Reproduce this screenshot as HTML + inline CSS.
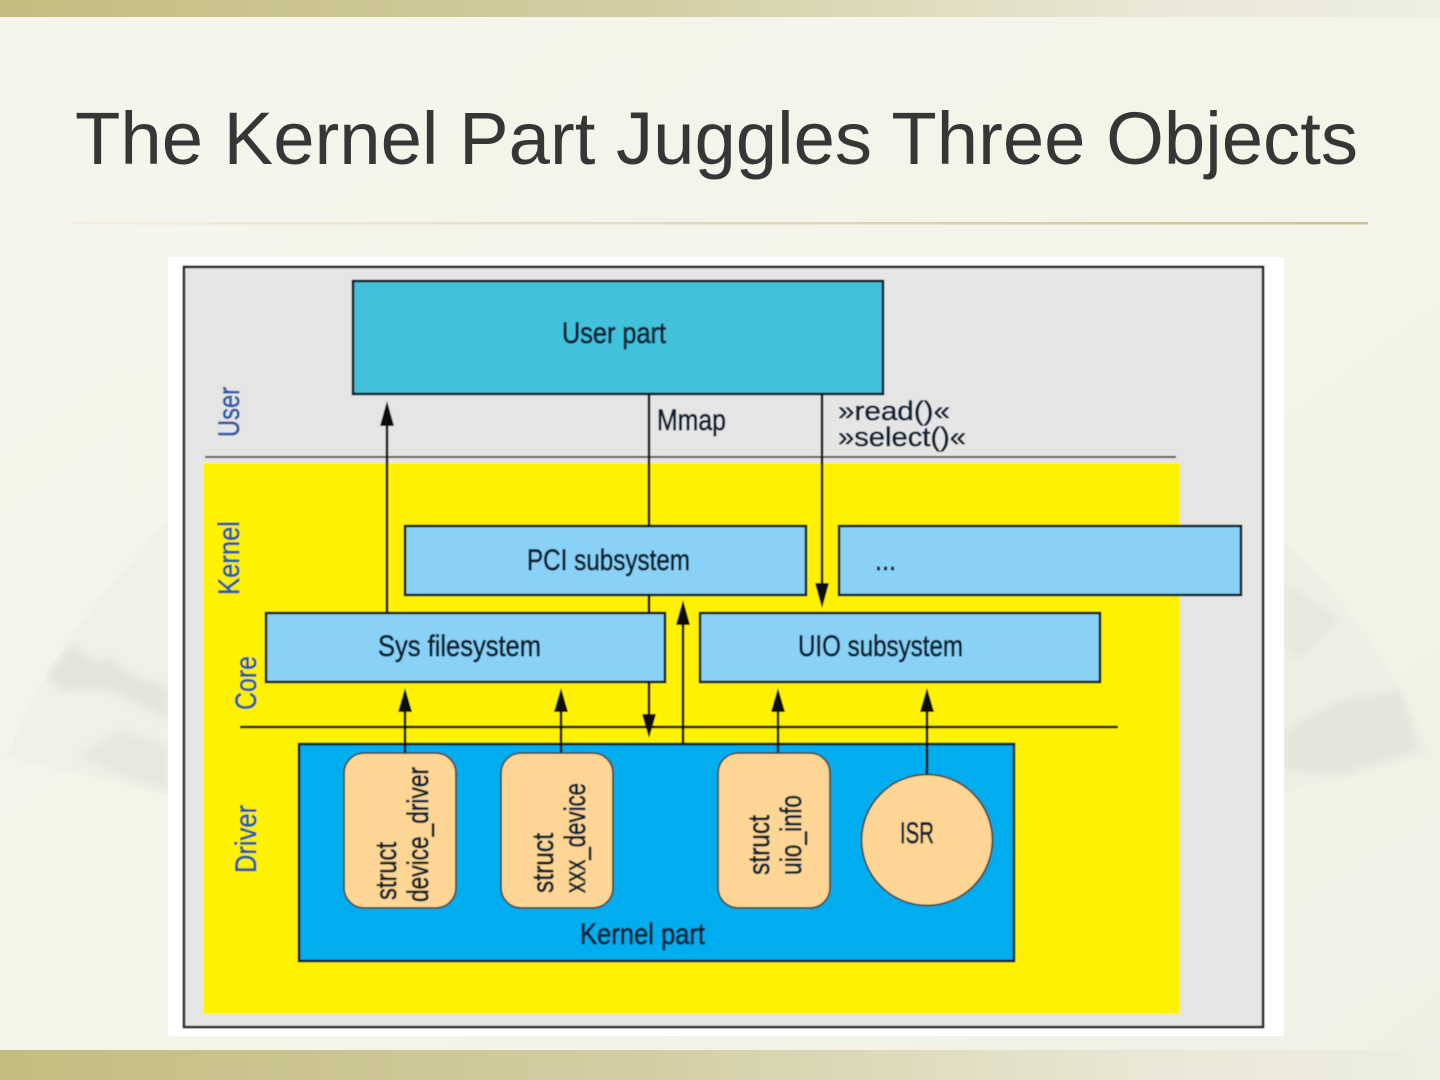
<!DOCTYPE html>
<html>
<head>
<meta charset="utf-8">
<style>
html,body{margin:0;padding:0;background:#f4f4ea;}
svg{display:block;}
.t{font-family:"Liberation Sans",sans-serif;font-size:30px;fill:#0f2032;stroke:#0f2032;stroke-width:.75;}
.s{font-family:"Liberation Sans",sans-serif;font-size:27px;fill:#0f2032;stroke:#0f2032;stroke-width:.6;}
.v{font-family:"Liberation Sans",sans-serif;font-size:30px;fill:#2f5ba6;stroke:#2f5ba6;stroke-width:.7;}
</style>
</head>
<body>
<svg width="1440" height="1080" viewBox="0 0 1440 1080" xmlns="http://www.w3.org/2000/svg">
<defs>
<linearGradient id="bar" x1="0" x2="1" y1="0" y2="0">
<stop offset="0" stop-color="#c4bc80"/><stop offset=".45" stop-color="#d3ceA2"/><stop offset=".8" stop-color="#e9e8d6"/><stop offset="1" stop-color="#eeeee3"/>
</linearGradient>
<linearGradient id="bg" x1="0" x2="1" y1="0" y2="1">
<stop offset="0" stop-color="#f5f5ec"/><stop offset=".6" stop-color="#f4f4e8"/><stop offset="1" stop-color="#efefe5"/>
</linearGradient>
<linearGradient id="rule" x1="0" x2="1" y1="0" y2="0">
<stop offset="0" stop-color="#efeee0"/><stop offset=".5" stop-color="#dedbb8"/><stop offset="1" stop-color="#c9c38c"/>
</linearGradient>
<filter id="soft"><feGaussianBlur stdDeviation="0.4"/></filter>
<filter id="soft2"><feGaussianBlur stdDeviation="4"/></filter>
</defs>

<rect width="1440" height="1080" fill="url(#bg)"/>

<path d="M7 757 C40 670 100 590 168 523 L168 795 Z" fill="#f0f0e7"/>
<path d="M48 675 L72 645 L95 662 L110 658 L130 675 L168 688 L168 718 L110 690 L60 690 Z" fill="#e4e4dc" filter="url(#soft2)"/>
<path d="M80 755 L120 730 L168 745 L168 790 L120 775 Z" fill="#e8e8e0" filter="url(#soft2)"/>

<path d="M1432 756 C1400 680 1350 600 1284 540 L1284 792 Z" fill="#efefe6"/>
<path d="M1284 730 L1340 700 L1400 690 L1420 750 L1340 775 L1284 770 Z" fill="#e5e5dc" filter="url(#soft2)"/>
<path d="M1284 580 L1340 620 L1300 660 L1284 650 Z" fill="#e8e8df" filter="url(#soft2)"/>

<rect x="0" y="0" width="1440" height="17" fill="url(#bar)"/>
<rect x="0" y="1050" width="1440" height="30" fill="url(#bar)"/>

<text x="75" y="164" font-family="'Liberation Sans',sans-serif" font-size="74" fill="#363636" textLength="1283" lengthAdjust="spacingAndGlyphs">The Kernel Part Juggles Three Objects</text>
<rect x="72" y="222" width="1296" height="2.5" fill="url(#rule)"/>

<rect x="168" y="257" width="1116" height="779" fill="#ffffff"/>

<g filter="url(#soft)">
<rect x="184" y="267" width="1079" height="760" fill="#e5e5e5" stroke="#222" stroke-width="2.4"/>
<rect x="203" y="463" width="977" height="551" fill="#fff200"/>
<line x1="205" y1="457" x2="1176" y2="457" stroke="#555" stroke-width="2"/>

<rect x="353" y="281" width="530" height="113" fill="#42c1da" stroke="#0c1620" stroke-width="2.5"/>

<g stroke="#111" stroke-width="2.5" fill="none">
<line x1="387" y1="613" x2="387" y2="420"/>
<line x1="649" y1="394" x2="649" y2="526"/>
<line x1="649" y1="595" x2="649" y2="613"/>
<line x1="649" y1="682" x2="649" y2="720"/>
<line x1="683" y1="744" x2="683" y2="620"/>
<line x1="822" y1="394" x2="822" y2="590"/>
<line x1="405" y1="753" x2="405" y2="705"/>
<line x1="561" y1="753" x2="561" y2="705"/>
<line x1="778" y1="753" x2="778" y2="705"/>
<line x1="927" y1="778" x2="927" y2="705"/>
<line x1="240" y1="727" x2="1118" y2="727"/>
</g>
<g fill="#111">
<polygon points="387,401 380,426 394,426"/>
<polygon points="649,738 642,714 656,714"/>
<polygon points="683,600 676,625 690,625"/>
<polygon points="822,608 815,583 829,583"/>
<polygon points="405,688 398,712 412,712"/>
<polygon points="561,688 554,712 568,712"/>
<polygon points="778,688 771,712 785,712"/>
<polygon points="927,688 920,712 934,712"/>
</g>

<rect x="405" y="526" width="401" height="69" fill="#89d1f5" stroke="#0c1620" stroke-width="2.5"/>
<rect x="839" y="526" width="402" height="69" fill="#89d1f5" stroke="#0c1620" stroke-width="2.5"/>
<rect x="266" y="613" width="399" height="69" fill="#89d1f5" stroke="#0c1620" stroke-width="2.5"/>
<rect x="700" y="613" width="400" height="69" fill="#89d1f5" stroke="#0c1620" stroke-width="2.5"/>

<rect x="299" y="744" width="715" height="217" fill="#00adef" stroke="#0c1620" stroke-width="2.5"/>
<line x1="405" y1="744" x2="405" y2="753" stroke="#111" stroke-width="2.5"/>
<line x1="561" y1="744" x2="561" y2="753" stroke="#111" stroke-width="2.5"/>
<line x1="778" y1="744" x2="778" y2="753" stroke="#111" stroke-width="2.5"/>
<line x1="927" y1="744" x2="927" y2="776" stroke="#111" stroke-width="2.5"/>

<rect x="344" y="753" width="112" height="155" rx="20" fill="#fdd594" stroke="#444" stroke-width="1.8"/>
<rect x="501" y="753" width="112" height="155" rx="20" fill="#fdd594" stroke="#444" stroke-width="1.8"/>
<rect x="718" y="753" width="112" height="155" rx="20" fill="#fdd594" stroke="#444" stroke-width="1.8"/>
<circle cx="927" cy="840" r="65.5" fill="#fdd594" stroke="#444" stroke-width="1.8"/>

<text class="t" x="562" y="343" textLength="104" lengthAdjust="spacingAndGlyphs">User part</text>
<text class="t" x="657" y="430" textLength="69" lengthAdjust="spacingAndGlyphs">Mmap</text>
<text class="s" x="838" y="420" textLength="112" lengthAdjust="spacingAndGlyphs">»read()«</text>
<text class="s" x="838" y="446" textLength="128" lengthAdjust="spacingAndGlyphs">»select()«</text>
<text class="t" x="527" y="570" textLength="163" lengthAdjust="spacingAndGlyphs">PCI subsystem</text>
<text class="t" x="875" y="570" textLength="21" lengthAdjust="spacingAndGlyphs">...</text>
<text class="t" x="378" y="656" textLength="163" lengthAdjust="spacingAndGlyphs">Sys filesystem</text>
<text class="t" x="798" y="656" textLength="165" lengthAdjust="spacingAndGlyphs">UIO subsystem</text>
<text class="t" x="900" y="843" textLength="34" lengthAdjust="spacingAndGlyphs">ISR</text>
<text class="t" x="580" y="944" textLength="125" lengthAdjust="spacingAndGlyphs">Kernel part</text>

<text class="t" transform="translate(396 900) rotate(-90)" textLength="58" lengthAdjust="spacingAndGlyphs">struct</text>
<text class="t" transform="translate(428 902) rotate(-90)" textLength="135" lengthAdjust="spacingAndGlyphs">device_driver</text>
<text class="t" transform="translate(553 893) rotate(-90)" textLength="60" lengthAdjust="spacingAndGlyphs">struct</text>
<text class="t" transform="translate(585 893) rotate(-90)" textLength="110" lengthAdjust="spacingAndGlyphs">xxx_device</text>
<text class="t" transform="translate(769 875) rotate(-90)" textLength="60" lengthAdjust="spacingAndGlyphs">struct</text>
<text class="t" transform="translate(801 875) rotate(-90)" textLength="80" lengthAdjust="spacingAndGlyphs">uio_info</text>

<text class="v" transform="translate(239 437) rotate(-90)" textLength="50" lengthAdjust="spacingAndGlyphs">User</text>
<text class="v" transform="translate(239 595) rotate(-90)" textLength="74" lengthAdjust="spacingAndGlyphs">Kernel</text>
<text class="v" transform="translate(256 710) rotate(-90)" textLength="54" lengthAdjust="spacingAndGlyphs">Core</text>
<text class="v" transform="translate(256 873) rotate(-90)" textLength="68" lengthAdjust="spacingAndGlyphs">Driver</text>
</g>
</svg>
</body>
</html>
